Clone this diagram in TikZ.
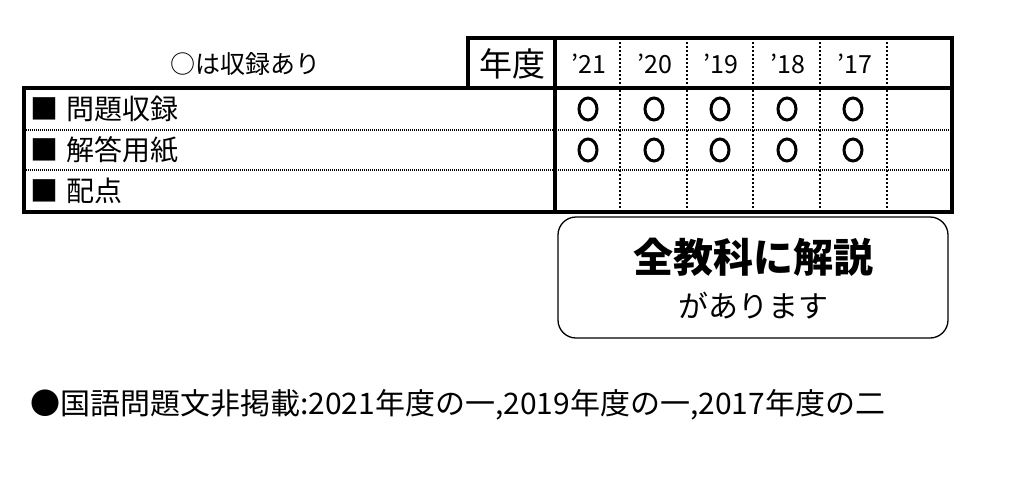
\documentclass[tikz,border=0pt]{standalone}
\usepackage{fontspec}
\setmainfont{Noto Sans CJK JP}
\begin{document}
\begin{tikzpicture}[x=1pt,y=-1pt,
  thick line/.style={line width=3.2pt},
  vdot/.style={line width=2pt,dash pattern=on 2pt off 2pt},
  hdot/.style={line width=1.2pt,dash pattern=on 1pt off 1pt},
  cell/.style={inner sep=0pt,font=\fontsize{25}{25}\selectfont},
  lbl/.style={anchor=west,inner sep=0pt,font=\fontsize{28}{28}\selectfont}]
\useasboundingbox (0,0) rectangle (1028,498);
% grid
\draw[vdot] (620,38) -- (620,212);
\draw[vdot] (687,38) -- (687,212);
\draw[vdot] (753,38) -- (753,212);
\draw[vdot] (820,38) -- (820,212);
\draw[vdot] (887,38) -- (887,212);
\draw[hdot] (24,130) -- (952,130);
\draw[hdot] (24,170) -- (952,170);
\draw[thick line] (468,88) -- (468,38) -- (952,38) -- (952,212) -- (24,212) -- (24,88) -- (952,88);
\draw[thick line] (555,38) -- (555,212);
\node[inner sep=0pt,font=\fontsize{25}{25}\selectfont] (legend) at (245,64) {○は収録あり};
\node[inner sep=0pt,font=\fontsize{33}{33}\selectfont] (nendo) at (512,64) {年度};
\foreach \x/\t [count=\i] in {589/'21,655/'20,721/'19,788/'18,855/'17}
  \node[cell] (y\i) at (\x,64) {\t};
\node[lbl] (r1) at (30,109) {■\hspace{0.3em}問題収録};
\node[lbl] (r2) at (30,150) {■\hspace{0.3em}解答用紙};
\node[lbl] (r3) at (30,191) {■\hspace{0.3em}配点};
\foreach \x [count=\i] in {588,654,720,787,853}{
  \draw[line width=3pt] (\x,109) ellipse (9pt and 11pt);
  \draw[line width=3pt] (\x,150) ellipse (9pt and 11pt);
}
\node[draw,line width=1.3pt,rounded corners=18pt,minimum width=390pt,minimum height=121pt] (box) at (753,277.5) {};
\node[inner sep=0pt,font=\fontsize{40}{40}\selectfont\bfseries] (t1) at (753,257) {全教科に解説};
\node[inner sep=0pt,font=\fontsize{30}{30}\selectfont] (t2) at (753,306) {があります};
\node[anchor=west,inner sep=0pt] (note) at (30,405) {\resizebox{855pt}{25pt}{\fontsize{24}{24}\selectfont ●国語問題文非掲載:2021年度の一,2019年度の一,2017年度の二}};
\end{tikzpicture}
\end{document}
